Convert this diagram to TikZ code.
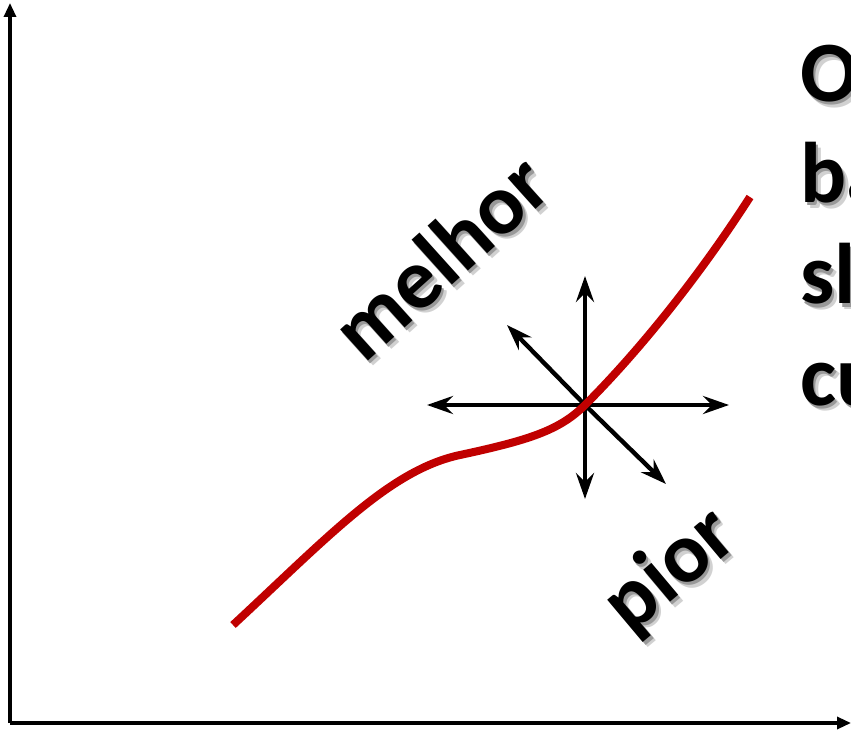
\documentclass[tikz,border=0pt]{standalone}
\usepackage{fontspec}
\setmainfont{Carlito}
\usetikzlibrary{arrows.meta}

\definecolor{curvered}{RGB}{192,0,0}

\tikzset{
  axis/.style={line width=3.2pt, -{Triangle[length=14pt, width=12pt]}},
  dirline/.style={line width=4.4pt},
  dirboth/.style={dirline, {Stealth[length=26pt, width=18pt, inset=9pt]}-{Stealth[length=26pt, width=18pt, inset=9pt]}},
  dirone/.style={dirline, -{Stealth[length=26pt, width=18pt, inset=9pt]}},
  bigword/.style={font=\fontsize{86}{100}\selectfont\bfseries, inner sep=0pt},
  wordshadow/.style={bigword, text=black!40, xshift=2.5pt, yshift=-3pt},
  wordhalo/.style={bigword, text=black!18, xshift=5pt, yshift=-5.5pt},
}

\begin{document}
\begin{tikzpicture}[x=1pt, y=-1pt]
  \clip (0,0) rectangle (851,735);

  % Axes
  \coordinate (origin) at (10,723);
  \coordinate (ytop) at (10,3);
  \coordinate (xend) at (851,723);
  \draw[axis] (origin) -- (ytop);
  \draw[axis] (origin) -- (xend);

  % Labels with soft shadow
  \node[wordhalo, rotate=42] at (440,256) {melhor};
  \node[wordshadow, rotate=42] at (440,256) {melhor};
  \node[bigword, rotate=42] (melhor) at (440,256) {melhor};
  \node[wordhalo, rotate=40] at (671,571) {pior};
  \node[wordshadow, rotate=40] at (671,571) {pior};
  \node[bigword, rotate=40] (pior) at (671,571) {pior};

  % Text at the right border
  \foreach \w [count=\i] in {O,ba,sl,cu} {
    \node[wordhalo, anchor=base west] at (800,1+101*\i) {\w};
    \node[wordshadow, anchor=base west] at (800,1+101*\i) {\w};
    \node[bigword, anchor=base west] (line\i) at (800,1+101*\i) {\w};
  }

  % Directions around the point
  \coordinate (c) at (585,405);
  \coordinate (east) at (729,405);
  \coordinate (west) at (427,405);
  \coordinate (north) at (585,276);
  \coordinate (south) at (585,499);
  \coordinate (nw) at (507,325);
  \coordinate (se) at (666,484);
  \draw[dirboth] (west) -- (east);
  \draw[dirboth] (south) -- (north);
  \draw[dirone] (c) -- (nw);
  \draw[dirone] (c) -- (se);

  % Red curve
  \draw[curvered, line width=8pt] (233,625) .. controls (330,535) and (390,470) .. (460,455)
    .. controls (530,440) and (560,430) .. (c)
    .. controls (640,350) and (700,275) .. (750,197);
\end{tikzpicture}
\end{document}
